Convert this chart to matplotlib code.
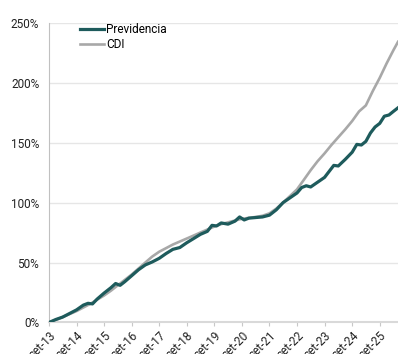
import pandas as pd
import matplotlib
matplotlib.use('Agg')
import matplotlib.pyplot as plt
import matplotlib.dates as mdates
from matplotlib.ticker import FuncFormatter

plt.rcParams['font.family'] = ['Roboto', 'DejaVu Sans']

# CDI cumulative return (%)
cdi_dates = ['2013-09', '2013-12', '2014-03', '2014-06', '2014-09', '2014-12',
             '2015-03', '2015-06', '2015-09', '2015-12', '2016-03', '2016-06',
             '2016-09', '2016-12', '2017-03', '2017-06', '2017-09', '2017-12',
             '2018-03', '2018-06', '2018-09', '2018-12', '2019-03', '2019-06',
             '2019-09', '2019-12', '2020-03', '2020-06', '2020-09', '2020-12',
             '2021-03', '2021-06', '2021-09', '2021-12', '2022-03', '2022-06',
             '2022-09', '2022-12', '2023-03', '2023-06', '2023-09', '2023-12',
             '2024-03', '2024-06', '2024-09', '2024-12', '2025-03', '2025-06',
             '2025-09', '2025-12', '2026-03', '2026-05']
cdi_vals = [0, 2.2, 4.5, 7.0, 9.5, 12.5,
            15.5, 19.0, 22.5, 26.5, 31.0, 35.5,
            40.0, 45.0, 50.0, 55.0, 59.0, 62.0,
            65.0, 67.5, 70.0, 72.5, 75.0, 77.5,
            80.0, 82.0, 83.5, 85.0, 86.5, 87.2,
            88.0, 89.0, 91.0, 95.0, 100.0, 105.5,
            111.0, 119.0, 127.0, 134.5, 141.0, 148.0,
            154.5, 161.0, 168.0, 176.0, 181.0, 193.0,
            204.0, 216.0, 227.0, 234.0]

# Previdencia cumulative return (%)
prev_dates = ['2013-09', '2013-12', '2014-03', '2014-06', '2014-09', '2014-12',
              '2015-02', '2015-04', '2015-06', '2015-09', '2015-12', '2016-02',
              '2016-04', '2016-06', '2016-09', '2016-12', '2017-03', '2017-06',
              '2017-09', '2017-12', '2018-03', '2018-06', '2018-09', '2018-12',
              '2019-03', '2019-06', '2019-08', '2019-10', '2019-12', '2020-03',
              '2020-06', '2020-08', '2020-10', '2020-12', '2021-03', '2021-06',
              '2021-09', '2021-12', '2022-03', '2022-06', '2022-09', '2022-11',
              '2023-01', '2023-03', '2023-06', '2023-09', '2023-11', '2024-01',
              '2024-03', '2024-06', '2024-09', '2024-11', '2025-01', '2025-03',
              '2025-05', '2025-07', '2025-09', '2025-11', '2026-01', '2026-03',
              '2026-05']
prev_vals = [0, 2.5, 4.5, 7.5, 10.5, 14.5,
             16.0, 15.5, 19.5, 24.5, 29.0, 32.5,
             31.0, 34.0, 39.0, 44.0, 48.0, 50.5,
             53.5, 57.5, 61.0, 62.5, 66.5, 70.0,
             73.5, 76.0, 81.0, 80.5, 83.0, 82.0,
             84.5, 88.0, 85.5, 87.0, 87.5, 88.0,
             89.5, 94.0, 100.0, 104.0, 108.0, 112.5,
             114.0, 113.0, 117.0, 121.0, 126.0, 131.0,
             130.5, 136.0, 142.0, 148.5, 148.0, 151.0,
             158.0, 163.0, 166.0, 172.0, 173.0, 176.0,
             179.0]

cdi_x = pd.to_datetime(cdi_dates)
prev_x = pd.to_datetime(prev_dates)

fig = plt.figure(figsize=(3.98, 3.54), dpi=100)
ax = fig.add_axes([0.123, 0.089, 0.877, 0.847])

ax.plot(prev_x, prev_vals, color='#1e5b5c', lw=2.3, label='Previdencia', zorder=3)
ax.plot(cdi_x, cdi_vals, color='#a8a8a8', lw=1.9, label='CDI', zorder=2)

ax.set_ylim(0, 250)
ax.set_yticks(range(0, 251, 50))
ax.yaxis.set_major_formatter(FuncFormatter(lambda v, p: f'{v:.0f}%'))
ax.set_xlim(cdi_x[0], cdi_x[-1])
ax.xaxis.set_major_locator(mdates.YearLocator(1, month=9, day=1))
ax.xaxis.set_major_formatter(FuncFormatter(lambda v, p: 'set-' + mdates.num2date(v).strftime('%y')))

ax.grid(axis='y', color='#e6e6e6', lw=1)
ax.set_axisbelow(True)
for s in ['top', 'right']:
    ax.spines[s].set_visible(False)
ax.spines['left'].set_color('#c0c0c0')
ax.spines['bottom'].set_color('#d9d9d9')
ax.spines['bottom'].set_linewidth(1.5)

ax.tick_params(axis='y', length=0, pad=7, labelsize=8.5, labelcolor='#222222')
ax.tick_params(axis='x', length=3, color='#c8c8c8', pad=2, labelsize=8.5,
               labelcolor='#222222')
for lab in ax.get_xticklabels():
    lab.set_rotation(45)
    lab.set_ha('right')
    lab.set_rotation_mode('anchor')

ax.legend(loc='upper left', bbox_to_anchor=(0.09, 1.0), frameon=False,
          fontsize=8.5, handlelength=2.0, handletextpad=0.2, labelspacing=0.2,
          borderpad=0, borderaxespad=0)

fig.savefig('out.png', dpi=100)
